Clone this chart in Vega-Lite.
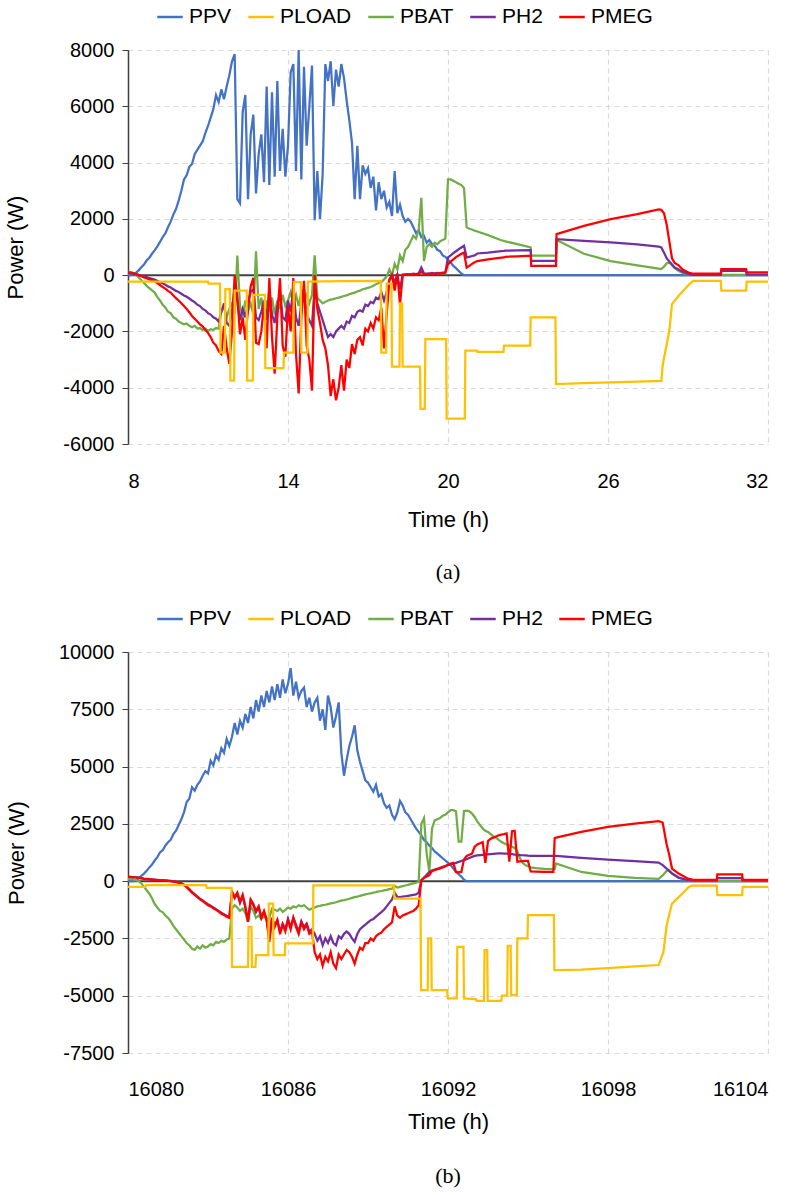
{
"$schema":"https://vega.github.io/schema/vega-lite/v6.json",
"padding":{"left":4,"top":3,"right":20,"bottom":5},
"background":"white",
"config":{
 "font":"Liberation Sans, sans-serif",
 "view":{"stroke":null},
 "axis":{"labelFontSize":20,"titleFontSize":22,"titleFontWeight":"normal","labelColor":"#000000","titleColor":"#000000","gridColor":"#d9d9d9","gridDash":[5,4],"gridWidth":1.2,"labelFont":"Liberation Sans, sans-serif","titleFont":"Liberation Sans, sans-serif"},
 "legend":{"labelFontSize":21,"labelFont":"Liberation Sans, sans-serif","labelColor":"#000000","symbolType":"stroke","symbolSize":650,"symbolStrokeWidth":2.5,"columnPadding":11,"labelOffset":5,"columns":5,"direction":"horizontal","orient":"none","title":null},
 "title":{"font":"Liberation Serif","fontSize":22,"fontWeight":"normal","color":"#000000"},
 "concat":{"spacing":22}
},
"datasets":{
"a":[
{"t":8.0,"PPV":0,"PBAT":120,"PH2":80,"PMEG":100},
{"t":8.1,"PPV":0,"PBAT":110,"PH2":70,"PMEG":90},
{"t":8.2,"PPV":20,"PBAT":70,"PH2":55,"PMEG":70},
{"t":8.3,"PPV":80,"PBAT":10,"PH2":30,"PMEG":40},
{"t":8.4,"PPV":170,"PBAT":-80,"PH2":10,"PMEG":0},
{"t":8.5,"PPV":280,"PBAT":-180,"PH2":-20,"PMEG":-40},
{"t":8.6,"PPV":380,"PBAT":-280,"PH2":-40,"PMEG":-80},
{"t":8.7,"PPV":520,"PBAT":-380,"PH2":-70,"PMEG":-110},
{"t":8.8,"PPV":620,"PBAT":-460,"PH2":-100,"PMEG":-150},
{"t":8.9,"PPV":760,"PBAT":-540,"PH2":-130,"PMEG":-180},
{"t":9.0,"PPV":880,"PBAT":-620,"PH2":-160,"PMEG":-220},
{"t":9.1,"PPV":1020,"PBAT":-780,"PH2":-200,"PMEG":-280},
{"t":9.2,"PPV":1180,"PBAT":-900,"PH2":-250,"PMEG":-350},
{"t":9.3,"PPV":1350,"PBAT":-1050,"PH2":-290,"PMEG":-420},
{"t":9.4,"PPV":1480,"PBAT":-1150,"PH2":-340,"PMEG":-480},
{"t":9.5,"PPV":1700,"PBAT":-1300,"PH2":-400,"PMEG":-560},
{"t":9.6,"PPV":1900,"PBAT":-1350,"PH2":-440,"PMEG":-620},
{"t":9.7,"PPV":2150,"PBAT":-1500,"PH2":-500,"PMEG":-720},
{"t":9.8,"PPV":2350,"PBAT":-1550,"PH2":-560,"PMEG":-820},
{"t":9.9,"PPV":2650,"PBAT":-1650,"PH2":-600,"PMEG":-900},
{"t":10.0,"PPV":3000,"PBAT":-1700,"PH2":-660,"PMEG":-1000},
{"t":10.1,"PPV":3400,"PBAT":-1750,"PH2":-720,"PMEG":-1100},
{"t":10.2,"PPV":3550,"PBAT":-1720,"PH2":-770,"PMEG":-1200},
{"t":10.3,"PPV":3850,"PBAT":-1800,"PH2":-830,"PMEG":-1320},
{"t":10.4,"PPV":3950,"PBAT":-1850,"PH2":-900,"PMEG":-1450},
{"t":10.5,"PPV":4300,"PBAT":-1800,"PH2":-960,"PMEG":-1550},
{"t":10.6,"PPV":4450,"PBAT":-1900,"PH2":-1050,"PMEG":-1650},
{"t":10.7,"PPV":4600,"PBAT":-1880,"PH2":-1100,"PMEG":-1750},
{"t":10.8,"PPV":4750,"PBAT":-1950,"PH2":-1200,"PMEG":-1820},
{"t":10.9,"PPV":5050,"PBAT":-1900,"PH2":-1250,"PMEG":-1950},
{"t":11.0,"PPV":5300,"PBAT":-1980,"PH2":-1350,"PMEG":-2050},
{"t":11.1,"PPV":5600,"PBAT":-1920,"PH2":-1400,"PMEG":-2200},
{"t":11.2,"PPV":5900,"PBAT":-1950,"PH2":-1500,"PMEG":-2400},
{"t":11.3,"PPV":6400,"PBAT":-1880,"PH2":-1550,"PMEG":-2500},
{"t":11.4,"PPV":6150,"PBAT":-1900,"PH2":-1650,"PMEG":-2700},
{"t":11.5,"PPV":6600,"PBAT":-1300,"PH2":-1300,"PMEG":-2800},
{"t":11.6,"PPV":6250,"PBAT":-1100,"PH2":-1000,"PMEG":-1800},
{"t":11.7,"PPV":6700,"PBAT":-1500,"PH2":-1700,"PMEG":-2600},
{"t":11.8,"PPV":7100,"PBAT":-1200,"PH2":-1800,"PMEG":-3150},
{"t":11.9,"PPV":7600,"PBAT":-1000,"PH2":-1300,"PMEG":-2000},
{"t":12.0,"PPV":7850,"PBAT":-1400,"PH2":-400,"PMEG":0},
{"t":12.1,"PPV":2700,"PBAT":700,"PH2":-900,"PMEG":-800},
{"t":12.2,"PPV":2550,"PBAT":-1100,"PH2":-1600,"PMEG":-2100},
{"t":12.3,"PPV":5800,"PBAT":-1500,"PH2":-1200,"PMEG":-1500},
{"t":12.4,"PPV":6400,"PBAT":-900,"PH2":-1500,"PMEG":-2300},
{"t":12.5,"PPV":2700,"PBAT":-1300,"PH2":-1000,"PMEG":-1200},
{"t":12.6,"PPV":5000,"PBAT":-1000,"PH2":-600,"PMEG":-400},
{"t":12.7,"PPV":5700,"PBAT":-1400,"PH2":-500,"PMEG":-100},
{"t":12.8,"PPV":2900,"PBAT":850,"PH2":-1500,"PMEG":-2400},
{"t":12.9,"PPV":4300,"PBAT":-1200,"PH2":-1600,"PMEG":-2450},
{"t":13.0,"PPV":5000,"PBAT":-800,"PH2":-1300,"PMEG":-2000},
{"t":13.1,"PPV":3300,"PBAT":-1500,"PH2":-900,"PMEG":-1000},
{"t":13.2,"PPV":6700,"PBAT":-900,"PH2":-1600,"PMEG":-2600},
{"t":13.3,"PPV":3200,"PBAT":-1300,"PH2":-500,"PMEG":-100},
{"t":13.4,"PPV":6500,"PBAT":-800,"PH2":-1400,"PMEG":-2200},
{"t":13.5,"PPV":3500,"PBAT":-1400,"PH2":-1700,"PMEG":-3500},
{"t":13.6,"PPV":6900,"PBAT":-900,"PH2":-1100,"PMEG":-1500},
{"t":13.7,"PPV":3700,"PBAT":-1200,"PH2":-600,"PMEG":-100},
{"t":13.8,"PPV":5200,"PBAT":-700,"PH2":-1500,"PMEG":-2500},
{"t":13.9,"PPV":3500,"PBAT":-1100,"PH2":-1600,"PMEG":-2900},
{"t":14.0,"PPV":4600,"PBAT":-900,"PH2":-900,"PMEG":-1100},
{"t":14.1,"PPV":7200,"PBAT":-600,"PH2":-1300,"PMEG":-2000},
{"t":14.2,"PPV":7500,"PBAT":-1000,"PH2":-500,"PMEG":-100},
{"t":14.3,"PPV":3700,"PBAT":-700,"PH2":-1500,"PMEG":-2800},
{"t":14.4,"PPV":8000,"PBAT":-1100,"PH2":-1800,"PMEG":-4200},
{"t":14.5,"PPV":3400,"PBAT":-600,"PH2":-1000,"PMEG":-1500},
{"t":14.6,"PPV":7400,"PBAT":-900,"PH2":-500,"PMEG":-200},
{"t":14.7,"PPV":4600,"PBAT":-700,"PH2":-1400,"PMEG":-2500},
{"t":14.8,"PPV":6000,"PBAT":-1000,"PH2":-1600,"PMEG":-3000},
{"t":14.9,"PPV":7450,"PBAT":-700,"PH2":-1800,"PMEG":-4100},
{"t":15.0,"PPV":1950,"PBAT":700,"PH2":-400,"PMEG":0},
{"t":15.1,"PPV":3700,"PBAT":-800,"PH2":-1000,"PMEG":-1200},
{"t":15.2,"PPV":2000,"PBAT":-900,"PH2":-1300,"PMEG":-1700},
{"t":15.3,"PPV":3600,"PBAT":-1000,"PH2":-1600,"PMEG":-2300},
{"t":15.4,"PPV":7500,"PBAT":-950,"PH2":-1900,"PMEG":-2600},
{"t":15.5,"PPV":6900,"PBAT":-900,"PH2":-2200,"PMEG":-3200},
{"t":15.6,"PPV":7600,"PBAT":-870,"PH2":-2100,"PMEG":-4300},
{"t":15.7,"PPV":6000,"PBAT":-850,"PH2":-2200,"PMEG":-3700},
{"t":15.8,"PPV":7300,"PBAT":-820,"PH2":-2000,"PMEG":-4450},
{"t":15.9,"PPV":6700,"PBAT":-800,"PH2":-1900,"PMEG":-4000},
{"t":16.0,"PPV":7500,"PBAT":-770,"PH2":-1800,"PMEG":-3200},
{"t":16.1,"PPV":7000,"PBAT":-740,"PH2":-1900,"PMEG":-4100},
{"t":16.2,"PPV":6200,"PBAT":-720,"PH2":-1650,"PMEG":-3000},
{"t":16.3,"PPV":5500,"PBAT":-680,"PH2":-1700,"PMEG":-3300},
{"t":16.4,"PPV":4700,"PBAT":-650,"PH2":-1450,"PMEG":-2450},
{"t":16.5,"PPV":2700,"PBAT":-620,"PH2":-1500,"PMEG":-2800},
{"t":16.6,"PPV":4600,"PBAT":-580,"PH2":-1300,"PMEG":-2300},
{"t":16.7,"PPV":2700,"PBAT":-550,"PH2":-1250,"PMEG":-2200},
{"t":16.8,"PPV":3900,"PBAT":-500,"PH2":-1300,"PMEG":-2500},
{"t":16.9,"PPV":3600,"PBAT":-480,"PH2":-1050,"PMEG":-1900},
{"t":17.0,"PPV":3800,"PBAT":-450,"PH2":-1100,"PMEG":-2000},
{"t":17.1,"PPV":3100,"PBAT":-420,"PH2":-950,"PMEG":-1700},
{"t":17.2,"PPV":3500,"PBAT":-380,"PH2":-1000,"PMEG":-1900},
{"t":17.3,"PPV":2300,"PBAT":-320,"PH2":-800,"PMEG":-1500},
{"t":17.4,"PPV":3300,"PBAT":-280,"PH2":-850,"PMEG":-1600},
{"t":17.5,"PPV":2700,"PBAT":-250,"PH2":-600,"PMEG":-1150},
{"t":17.6,"PPV":3000,"PBAT":-150,"PH2":-900,"PMEG":-2600},
{"t":17.7,"PPV":2400,"PBAT":-50,"PH2":-600,"PMEG":-1400},
{"t":17.8,"PPV":2600,"PBAT":200,"PH2":-150,"PMEG":-200},
{"t":17.9,"PPV":2100,"PBAT":0,"PH2":0,"PMEG":0},
{"t":18.0,"PPV":3700,"PBAT":400,"PH2":-250,"PMEG":-550},
{"t":18.1,"PPV":2200,"PBAT":200,"PH2":20,"PMEG":50},
{"t":18.2,"PPV":2500,"PBAT":700,"PH2":-500,"PMEG":-1050},
{"t":18.3,"PPV":2100,"PBAT":500,"PH2":20,"PMEG":0},
{"t":18.4,"PPV":1900,"PBAT":900,"PH2":30,"PMEG":20},
{"t":18.5,"PPV":2000,"PBAT":1000,"PH2":40,"PMEG":30},
{"t":18.6,"PPV":1900,"PBAT":1200,"PH2":30,"PMEG":20},
{"t":18.7,"PPV":1700,"PBAT":1400,"PH2":50,"PMEG":30},
{"t":18.8,"PPV":1500,"PBAT":1300,"PH2":40,"PMEG":40},
{"t":18.9,"PPV":1600,"PBAT":1600,"PH2":60,"PMEG":30},
{"t":19.0,"PPV":1350,"PBAT":2750,"PH2":270,"PMEG":120},
{"t":19.1,"PPV":1400,"PBAT":500,"PH2":60,"PMEG":40},
{"t":19.2,"PPV":1150,"PBAT":1000,"PH2":50,"PMEG":30},
{"t":19.3,"PPV":1250,"PBAT":1100,"PH2":60,"PMEG":40},
{"t":19.4,"PPV":1100,"PBAT":1000,"PH2":70,"PMEG":50},
{"t":19.5,"PPV":1050,"PBAT":1150,"PH2":60,"PMEG":40},
{"t":19.6,"PPV":900,"PBAT":1100,"PH2":80,"PMEG":50},
{"t":19.7,"PPV":850,"PBAT":1200,"PH2":70,"PMEG":60},
{"t":19.8,"PPV":700,"PBAT":1250,"PH2":90,"PMEG":60},
{"t":19.9,"PPV":650,"PBAT":1300,"PH2":100,"PMEG":80},
{"t":20.0,"PPV":550,"PBAT":3400,"PH2":630,"PMEG":390},
{"t":20.1,"PPV":450,"PBAT":3400,"PH2":700,"PMEG":480},
{"t":20.2,"PPV":330,"PBAT":3350,"PH2":780,"PMEG":560},
{"t":20.3,"PPV":250,"PBAT":3300,"PH2":850,"PMEG":640},
{"t":20.4,"PPV":150,"PBAT":3250,"PH2":920,"PMEG":700},
{"t":20.5,"PPV":60,"PBAT":3200,"PH2":980,"PMEG":760},
{"t":20.6,"PPV":0,"PBAT":3100,"PH2":1040,"PMEG":800},
{"t":20.7,"PPV":0,"PBAT":1700,"PH2":630,"PMEG":270},
{"t":20.8,"PPV":0,"PBAT":1650,"PH2":650,"PMEG":330},
{"t":20.9,"PPV":0,"PBAT":1620,"PH2":680,"PMEG":400},
{"t":21.0,"PPV":0,"PBAT":1580,"PH2":700,"PMEG":460},
{"t":21.1,"PPV":0,"PBAT":1550,"PH2":770,"PMEG":500},
{"t":21.5,"PPV":0,"PBAT":1420,"PH2":800,"PMEG":560},
{"t":22.0,"PPV":0,"PBAT":1240,"PH2":850,"PMEG":620},
{"t":22.1,"PPV":0,"PBAT":1220,"PH2":860,"PMEG":630},
{"t":22.15,"PPV":0,"PBAT":1200,"PH2":870,"PMEG":650},
{"t":22.6,"PPV":0,"PBAT":1100,"PH2":880,"PMEG":670},
{"t":23.1,"PPV":0,"PBAT":985,"PH2":885,"PMEG":690},
{"t":23.12,"PPV":0,"PBAT":690,"PH2":510,"PMEG":330},
{"t":24.05,"PPV":0,"PBAT":690,"PH2":510,"PMEG":330},
{"t":24.07,"PPV":0,"PBAT":1250,"PH2":1280,"PMEG":1460},
{"t":25.1,"PPV":0,"PBAT":760,"PH2":1220,"PMEG":1750},
{"t":26.1,"PPV":0,"PBAT":500,"PH2":1160,"PMEG":1990},
{"t":27.1,"PPV":0,"PBAT":350,"PH2":1090,"PMEG":2170},
{"t":27.9,"PPV":0,"PBAT":230,"PH2":1010,"PMEG":2340},
{"t":28.0,"PPV":0,"PBAT":213,"PH2":985,"PMEG":2320},
{"t":28.1,"PPV":0,"PBAT":300,"PH2":800,"PMEG":2200},
{"t":28.2,"PPV":0,"PBAT":420,"PH2":600,"PMEG":1800},
{"t":28.3,"PPV":0,"PBAT":450,"PH2":480,"PMEG":1200},
{"t":28.4,"PPV":0,"PBAT":350,"PH2":380,"PMEG":600},
{"t":28.5,"PPV":0,"PBAT":250,"PH2":270,"PMEG":430},
{"t":28.65,"PPV":0,"PBAT":150,"PH2":200,"PMEG":350},
{"t":28.8,"PPV":0,"PBAT":80,"PH2":120,"PMEG":200},
{"t":29.05,"PPV":0,"PBAT":20,"PH2":30,"PMEG":80},
{"t":29.2,"PPV":0,"PBAT":10,"PH2":10,"PMEG":50},
{"t":30.23,"PPV":0,"PBAT":10,"PH2":10,"PMEG":50},
{"t":30.25,"PPV":0,"PBAT":10,"PH2":155,"PMEG":215},
{"t":31.18,"PPV":0,"PBAT":10,"PH2":155,"PMEG":215},
{"t":31.2,"PPV":0,"PBAT":10,"PH2":20,"PMEG":100},
{"t":32.0,"PPV":0,"PBAT":10,"PH2":20,"PMEG":100},
{"t":8.0,"PLOAD":-230},{"t":11.0,"PLOAD":-230},{"t":11.02,"PLOAD":-300},{"t":11.45,"PLOAD":-300},{"t":11.47,"PLOAD":-2750},{"t":11.63,"PLOAD":-2750},{"t":11.65,"PLOAD":-500},{"t":11.82,"PLOAD":-500},{"t":11.84,"PLOAD":-3750},{"t":11.98,"PLOAD":-3750},{"t":12.0,"PLOAD":-550},{"t":12.45,"PLOAD":-550},{"t":12.47,"PLOAD":-3750},{"t":12.68,"PLOAD":-3750},{"t":12.7,"PLOAD":-700},{"t":13.13,"PLOAD":-700},{"t":13.15,"PLOAD":-3300},{"t":13.83,"PLOAD":-3300},{"t":13.85,"PLOAD":-2750},{"t":14.2,"PLOAD":-2750},{"t":14.22,"PLOAD":-250},{"t":14.48,"PLOAD":-250},{"t":14.5,"PLOAD":-2750},{"t":14.73,"PLOAD":-2750},{"t":14.75,"PLOAD":-230},{"t":16.0,"PLOAD":-210},{"t":17.48,"PLOAD":-200},{"t":17.5,"PLOAD":-2750},{"t":17.68,"PLOAD":-2750},{"t":17.7,"PLOAD":-300},{"t":17.88,"PLOAD":-300},{"t":17.9,"PLOAD":-3250},{"t":18.18,"PLOAD":-3250},{"t":18.2,"PLOAD":-1000},{"t":18.28,"PLOAD":-1000},{"t":18.3,"PLOAD":-3250},{"t":18.95,"PLOAD":-3250},{"t":18.97,"PLOAD":-4750},{"t":19.13,"PLOAD":-4750},{"t":19.15,"PLOAD":-2270},{"t":19.93,"PLOAD":-2270},{"t":19.95,"PLOAD":-5100},{"t":20.63,"PLOAD":-5100},{"t":20.65,"PLOAD":-2680},{"t":21.08,"PLOAD":-2680},{"t":21.1,"PLOAD":-2730},{"t":22.08,"PLOAD":-2730},{"t":22.1,"PLOAD":-2500},{"t":23.08,"PLOAD":-2500},{"t":23.1,"PLOAD":-1500},{"t":24.03,"PLOAD":-1500},{"t":24.05,"PLOAD":-3870},{"t":25.1,"PLOAD":-3840},{"t":26.1,"PLOAD":-3810},{"t":27.1,"PLOAD":-3780},{"t":28.0,"PLOAD":-3760},{"t":28.05,"PLOAD":-3200},{"t":28.3,"PLOAD":-1970},{"t":28.4,"PLOAD":-1030},{"t":28.65,"PLOAD":-730},{"t":29.05,"PLOAD":-320},{"t":29.2,"PLOAD":-200},{"t":30.23,"PLOAD":-200},{"t":30.25,"PLOAD":-550},{"t":31.18,"PLOAD":-550},{"t":31.2,"PLOAD":-230},{"t":32.0,"PLOAD":-230}
],
"b":[
{"t":16080.0,"PPV":0,"PBAT":100,"PH2":200,"PMEG":190},
{"t":16080.1,"PPV":0,"PBAT":90,"PH2":190,"PMEG":180},
{"t":16080.2,"PPV":0,"PBAT":80,"PH2":180,"PMEG":170},
{"t":16080.3,"PPV":20,"PBAT":50,"PH2":170,"PMEG":160},
{"t":16080.4,"PPV":120,"PBAT":0,"PH2":150,"PMEG":140},
{"t":16080.5,"PPV":230,"PBAT":-100,"PH2":130,"PMEG":120},
{"t":16080.6,"PPV":330,"PBAT":-250,"PH2":110,"PMEG":100},
{"t":16080.7,"PPV":450,"PBAT":-400,"PH2":100,"PMEG":90},
{"t":16080.8,"PPV":600,"PBAT":-550,"PH2":90,"PMEG":80},
{"t":16080.9,"PPV":720,"PBAT":-750,"PH2":80,"PMEG":70},
{"t":16081.0,"PPV":900,"PBAT":-1000,"PH2":70,"PMEG":60},
{"t":16081.1,"PPV":1050,"PBAT":-1150,"PH2":60,"PMEG":50},
{"t":16081.2,"PPV":1250,"PBAT":-1300,"PH2":50,"PMEG":40},
{"t":16081.3,"PPV":1350,"PBAT":-1350,"PH2":40,"PMEG":30},
{"t":16081.4,"PPV":1550,"PBAT":-1500,"PH2":30,"PMEG":20},
{"t":16081.5,"PPV":1700,"PBAT":-1600,"PH2":20,"PMEG":10},
{"t":16081.6,"PPV":1800,"PBAT":-1750,"PH2":10,"PMEG":0},
{"t":16081.7,"PPV":2050,"PBAT":-1950,"PH2":-10,"PMEG":-20},
{"t":16081.8,"PPV":2200,"PBAT":-2100,"PH2":-30,"PMEG":-40},
{"t":16081.9,"PPV":2450,"PBAT":-2250,"PH2":-60,"PMEG":-70},
{"t":16082.0,"PPV":2700,"PBAT":-2400,"PH2":-90,"PMEG":-100},
{"t":16082.1,"PPV":3000,"PBAT":-2550,"PH2":-150,"PMEG":-170},
{"t":16082.2,"PPV":3450,"PBAT":-2700,"PH2":-240,"PMEG":-260},
{"t":16082.3,"PPV":3600,"PBAT":-2800,"PH2":-350,"PMEG":-380},
{"t":16082.4,"PPV":4100,"PBAT":-2950,"PH2":-470,"PMEG":-500},
{"t":16082.5,"PPV":3950,"PBAT":-3000,"PH2":-570,"PMEG":-600},
{"t":16082.6,"PPV":4200,"PBAT":-2850,"PH2":-670,"PMEG":-700},
{"t":16082.7,"PPV":4350,"PBAT":-2950,"PH2":-760,"PMEG":-790},
{"t":16082.8,"PPV":4600,"PBAT":-2800,"PH2":-840,"PMEG":-870},
{"t":16082.9,"PPV":4800,"PBAT":-2900,"PH2":-930,"PMEG":-960},
{"t":16083.0,"PPV":4700,"PBAT":-2850,"PH2":-1010,"PMEG":-1050},
{"t":16083.1,"PPV":5250,"PBAT":-2750,"PH2":-1070,"PMEG":-1100},
{"t":16083.2,"PPV":5050,"PBAT":-2800,"PH2":-1150,"PMEG":-1180},
{"t":16083.3,"PPV":5500,"PBAT":-2650,"PH2":-1220,"PMEG":-1250},
{"t":16083.4,"PPV":5300,"PBAT":-2700,"PH2":-1300,"PMEG":-1330},
{"t":16083.5,"PPV":5800,"PBAT":-2600,"PH2":-1380,"PMEG":-1420},
{"t":16083.6,"PPV":5600,"PBAT":-2650,"PH2":-1440,"PMEG":-1480},
{"t":16083.7,"PPV":6200,"PBAT":-2550,"PH2":-1510,"PMEG":-1550},
{"t":16083.8,"PPV":5900,"PBAT":-2500,"PH2":-1560,"PMEG":-1600},
{"t":16083.9,"PPV":6300,"PBAT":-1200,"PH2":-500,"PMEG":-450},
{"t":16084.0,"PPV":6900,"PBAT":-1050,"PH2":-750,"PMEG":-700},
{"t":16084.1,"PPV":6400,"PBAT":-1150,"PH2":-550,"PMEG":-500},
{"t":16084.2,"PPV":7000,"PBAT":-1300,"PH2":-950,"PMEG":-900},
{"t":16084.3,"PPV":6700,"PBAT":-1200,"PH2":-650,"PMEG":-600},
{"t":16084.4,"PPV":7300,"PBAT":-1400,"PH2":-1150,"PMEG":-1100},
{"t":16084.5,"PPV":6900,"PBAT":-1780,"PH2":-1700,"PMEG":-1780},
{"t":16084.6,"PPV":7600,"PBAT":-1100,"PH2":-850,"PMEG":-800},
{"t":16084.7,"PPV":7100,"PBAT":-1300,"PH2":-1050,"PMEG":-1000},
{"t":16084.8,"PPV":7900,"PBAT":-1600,"PH2":-1350,"PMEG":-1300},
{"t":16084.9,"PPV":7400,"PBAT":-1500,"PH2":-1150,"PMEG":-1100},
{"t":16085.0,"PPV":8100,"PBAT":-1650,"PH2":-1600,"PMEG":-1600},
{"t":16085.1,"PPV":7600,"PBAT":-1550,"PH2":-1350,"PMEG":-1300},
{"t":16085.2,"PPV":8300,"PBAT":-1650,"PH2":-1700,"PMEG":-1700},
{"t":16085.3,"PPV":7800,"PBAT":-1600,"PH2":-2500,"PMEG":-2650},
{"t":16085.4,"PPV":8500,"PBAT":-1200,"PH2":-1600,"PMEG":-1600},
{"t":16085.5,"PPV":7900,"PBAT":-1250,"PH2":-1950,"PMEG":-2000},
{"t":16085.6,"PPV":8600,"PBAT":-1300,"PH2":-1700,"PMEG":-1700},
{"t":16085.7,"PPV":8000,"PBAT":-1200,"PH2":-2200,"PMEG":-2300},
{"t":16085.8,"PPV":8800,"PBAT":-1340,"PH2":-1850,"PMEG":-1900},
{"t":16085.9,"PPV":8200,"PBAT":-1250,"PH2":-2100,"PMEG":-2200},
{"t":16086.0,"PPV":8600,"PBAT":-1150,"PH2":-1650,"PMEG":-1700},
{"t":16086.1,"PPV":9300,"PBAT":-1200,"PH2":-2000,"PMEG":-2100},
{"t":16086.2,"PPV":8100,"PBAT":-1100,"PH2":-1600,"PMEG":-1600},
{"t":16086.3,"PPV":8700,"PBAT":-1150,"PH2":-1900,"PMEG":-2000},
{"t":16086.4,"PPV":8000,"PBAT":-1050,"PH2":-2200,"PMEG":-2300},
{"t":16086.5,"PPV":8300,"PBAT":-1100,"PH2":-1750,"PMEG":-1800},
{"t":16086.6,"PPV":8450,"PBAT":-1050,"PH2":-2000,"PMEG":-2100},
{"t":16086.7,"PPV":7600,"PBAT":-1150,"PH2":-1850,"PMEG":-1900},
{"t":16086.8,"PPV":8000,"PBAT":-1250,"PH2":-2200,"PMEG":-2300},
{"t":16086.9,"PPV":7400,"PBAT":-1200,"PH2":-2100,"PMEG":-2200},
{"t":16087.0,"PPV":7800,"PBAT":-1150,"PH2":-2300,"PMEG":-3100},
{"t":16087.1,"PPV":8000,"PBAT":-1100,"PH2":-2600,"PMEG":-3400},
{"t":16087.2,"PPV":7000,"PBAT":-1080,"PH2":-2400,"PMEG":-3200},
{"t":16087.3,"PPV":7500,"PBAT":-1050,"PH2":-2800,"PMEG":-3700},
{"t":16087.4,"PPV":6600,"PBAT":-1030,"PH2":-2500,"PMEG":-3300},
{"t":16087.5,"PPV":8100,"PBAT":-1000,"PH2":-2700,"PMEG":-3500},
{"t":16087.6,"PPV":7600,"PBAT":-970,"PH2":-2400,"PMEG":-3100},
{"t":16087.7,"PPV":6700,"PBAT":-950,"PH2":-2700,"PMEG":-3600},
{"t":16087.8,"PPV":7200,"PBAT":-920,"PH2":-2800,"PMEG":-3800},
{"t":16087.9,"PPV":7800,"PBAT":-880,"PH2":-2400,"PMEG":-3200},
{"t":16088.0,"PPV":5600,"PBAT":-850,"PH2":-2500,"PMEG":-3400},
{"t":16088.1,"PPV":4600,"PBAT":-830,"PH2":-2300,"PMEG":-3200},
{"t":16088.2,"PPV":5300,"PBAT":-800,"PH2":-2200,"PMEG":-3000},
{"t":16088.3,"PPV":5900,"PBAT":-770,"PH2":-2300,"PMEG":-3100},
{"t":16088.4,"PPV":6300,"PBAT":-730,"PH2":-2500,"PMEG":-3300},
{"t":16088.5,"PPV":6800,"PBAT":-700,"PH2":-2650,"PMEG":-3600},
{"t":16088.6,"PPV":5700,"PBAT":-680,"PH2":-2300,"PMEG":-3200},
{"t":16088.7,"PPV":5200,"PBAT":-640,"PH2":-2100,"PMEG":-2900},
{"t":16088.8,"PPV":4800,"PBAT":-610,"PH2":-2000,"PMEG":-3000},
{"t":16088.9,"PPV":4400,"PBAT":-580,"PH2":-1900,"PMEG":-2700},
{"t":16089.0,"PPV":4300,"PBAT":-550,"PH2":-1800,"PMEG":-2700},
{"t":16089.1,"PPV":4100,"PBAT":-530,"PH2":-1700,"PMEG":-2500},
{"t":16089.2,"PPV":3900,"PBAT":-500,"PH2":-1650,"PMEG":-2600},
{"t":16089.3,"PPV":4200,"PBAT":-480,"PH2":-1550,"PMEG":-2400},
{"t":16089.4,"PPV":3700,"PBAT":-450,"PH2":-1450,"PMEG":-2300},
{"t":16089.5,"PPV":3800,"PBAT":-430,"PH2":-1350,"PMEG":-2250},
{"t":16089.6,"PPV":3400,"PBAT":-400,"PH2":-1250,"PMEG":-2100},
{"t":16089.7,"PPV":3200,"PBAT":-380,"PH2":-1100,"PMEG":-2000},
{"t":16089.8,"PPV":3300,"PBAT":-350,"PH2":-950,"PMEG":-1900},
{"t":16089.9,"PPV":2900,"PBAT":-330,"PH2":-800,"PMEG":-1800},
{"t":16090.0,"PPV":2700,"PBAT":-200,"PH2":-500,"PMEG":-1100},
{"t":16090.1,"PPV":3000,"PBAT":-280,"PH2":-700,"PMEG":-1500},
{"t":16090.2,"PPV":3500,"PBAT":-250,"PH2":-700,"PMEG":-1600},
{"t":16090.3,"PPV":3300,"PBAT":-220,"PH2":-680,"PMEG":-1500},
{"t":16090.4,"PPV":3000,"PBAT":-190,"PH2":-660,"PMEG":-1450},
{"t":16090.5,"PPV":2900,"PBAT":-160,"PH2":-640,"PMEG":-1400},
{"t":16090.6,"PPV":2700,"PBAT":-130,"PH2":-620,"PMEG":-1350},
{"t":16090.7,"PPV":2500,"PBAT":-100,"PH2":-600,"PMEG":-1300},
{"t":16090.8,"PPV":2300,"PBAT":-70,"PH2":-580,"PMEG":-1200},
{"t":16090.9,"PPV":2150,"PBAT":-30,"PH2":-500,"PMEG":-1050},
{"t":16091.0,"PPV":2000,"PBAT":2500,"PH2":40,"PMEG":40},
{"t":16091.1,"PPV":1800,"PBAT":2750,"PH2":150,"PMEG":150},
{"t":16091.2,"PPV":1700,"PBAT":1200,"PH2":280,"PMEG":200},
{"t":16091.3,"PPV":1550,"PBAT":400,"PH2":400,"PMEG":260},
{"t":16091.4,"PPV":1450,"PBAT":2300,"PH2":460,"PMEG":450},
{"t":16091.5,"PPV":1300,"PBAT":2650,"PH2":500,"PMEG":480},
{"t":16091.6,"PPV":1200,"PBAT":2700,"PH2":540,"PMEG":520},
{"t":16091.7,"PPV":1100,"PBAT":2750,"PH2":580,"PMEG":550},
{"t":16091.8,"PPV":1000,"PBAT":2850,"PH2":620,"PMEG":600},
{"t":16091.9,"PPV":900,"PBAT":2900,"PH2":660,"PMEG":650},
{"t":16092.0,"PPV":800,"PBAT":3000,"PH2":700,"PMEG":720},
{"t":16092.1,"PPV":700,"PBAT":3100,"PH2":730,"PMEG":770},
{"t":16092.2,"PPV":550,"PBAT":3100,"PH2":770,"PMEG":800},
{"t":16092.3,"PPV":400,"PBAT":3050,"PH2":800,"PMEG":400},
{"t":16092.4,"PPV":300,"PBAT":1720,"PH2":840,"PMEG":380},
{"t":16092.5,"PPV":200,"PBAT":1720,"PH2":880,"PMEG":400},
{"t":16092.6,"PPV":60,"PBAT":3060,"PH2":915,"PMEG":950},
{"t":16092.7,"PPV":0,"PBAT":3080,"PH2":960,"PMEG":1100},
{"t":16092.8,"PPV":0,"PBAT":3050,"PH2":1010,"PMEG":1150},
{"t":16092.9,"PPV":0,"PBAT":2950,"PH2":1060,"PMEG":1200},
{"t":16093.0,"PPV":0,"PBAT":2800,"PH2":1100,"PMEG":1500},
{"t":16093.1,"PPV":0,"PBAT":2600,"PH2":1120,"PMEG":1600},
{"t":16093.2,"PPV":0,"PBAT":2450,"PH2":1140,"PMEG":1650},
{"t":16093.3,"PPV":0,"PBAT":2300,"PH2":1150,"PMEG":1700},
{"t":16093.4,"PPV":0,"PBAT":2200,"PH2":1160,"PMEG":800},
{"t":16093.5,"PPV":0,"PBAT":2150,"PH2":1170,"PMEG":1750},
{"t":16093.6,"PPV":0,"PBAT":2050,"PH2":1180,"PMEG":1850},
{"t":16093.7,"PPV":0,"PBAT":1950,"PH2":1190,"PMEG":1900},
{"t":16093.8,"PPV":0,"PBAT":1900,"PH2":1200,"PMEG":1950},
{"t":16093.9,"PPV":0,"PBAT":1800,"PH2":1210,"PMEG":2000},
{"t":16094.0,"PPV":0,"PBAT":1720,"PH2":1210,"PMEG":2030},
{"t":16094.1,"PPV":0,"PBAT":1650,"PH2":1200,"PMEG":2050},
{"t":16094.2,"PPV":0,"PBAT":1600,"PH2":1200,"PMEG":2080},
{"t":16094.3,"PPV":0,"PBAT":1550,"PH2":1190,"PMEG":850},
{"t":16094.4,"PPV":0,"PBAT":1500,"PH2":1180,"PMEG":2180},
{"t":16094.5,"PPV":0,"PBAT":1450,"PH2":1160,"PMEG":2200},
{"t":16094.6,"PPV":0,"PBAT":1300,"PH2":1150,"PMEG":850},
{"t":16094.7,"PPV":0,"PBAT":1000,"PH2":1140,"PMEG":860},
{"t":16094.8,"PPV":0,"PBAT":800,"PH2":1130,"PMEG":870},
{"t":16094.9,"PPV":0,"PBAT":700,"PH2":1120,"PMEG":880},
{"t":16095.0,"PPV":0,"PBAT":650,"PH2":1110,"PMEG":880},
{"t":16095.1,"PPV":0,"PBAT":600,"PH2":1105,"PMEG":420},
{"t":16095.3,"PPV":0,"PBAT":570,"PH2":1100,"PMEG":410},
{"t":16095.6,"PPV":0,"PBAT":540,"PH2":1100,"PMEG":400},
{"t":16095.95,"PPV":0,"PBAT":520,"PH2":1100,"PMEG":400},
{"t":16096.0,"PPV":0,"PBAT":520,"PH2":1100,"PMEG":1880},
{"t":16096.05,"PPV":0,"PBAT":770,"PH2":1100,"PMEG":1900},
{"t":16097.0,"PPV":0,"PBAT":400,"PH2":1020,"PMEG":2150},
{"t":16098.0,"PPV":0,"PBAT":230,"PH2":940,"PMEG":2370},
{"t":16099.0,"PPV":0,"PBAT":140,"PH2":870,"PMEG":2510},
{"t":16099.9,"PPV":0,"PBAT":100,"PH2":810,"PMEG":2620},
{"t":16100.05,"PPV":0,"PBAT":250,"PH2":700,"PMEG":2560},
{"t":16100.2,"PPV":0,"PBAT":450,"PH2":550,"PMEG":1600},
{"t":16100.3,"PPV":0,"PBAT":480,"PH2":430,"PMEG":1130},
{"t":16100.4,"PPV":0,"PBAT":350,"PH2":330,"PMEG":550},
{"t":16100.65,"PPV":0,"PBAT":150,"PH2":150,"PMEG":330},
{"t":16101.0,"PPV":0,"PBAT":30,"PH2":40,"PMEG":110},
{"t":16101.2,"PPV":0,"PBAT":10,"PH2":20,"PMEG":60},
{"t":16102.08,"PPV":0,"PBAT":10,"PH2":20,"PMEG":60},
{"t":16102.1,"PPV":0,"PBAT":10,"PH2":130,"PMEG":290},
{"t":16103.03,"PPV":0,"PBAT":10,"PH2":130,"PMEG":290},
{"t":16103.05,"PPV":0,"PBAT":10,"PH2":20,"PMEG":60},
{"t":16104.0,"PPV":0,"PBAT":10,"PH2":20,"PMEG":60},
{"t":16080.0,"PLOAD":-250},{"t":16080.65,"PLOAD":-250},{"t":16080.67,"PLOAD":-170},{"t":16082.93,"PLOAD":-170},{"t":16082.95,"PLOAD":-290},{"t":16083.88,"PLOAD":-290},{"t":16083.9,"PLOAD":-3740},{"t":16084.5,"PLOAD":-3740},{"t":16084.52,"PLOAD":-2000},{"t":16084.63,"PLOAD":-2000},{"t":16084.65,"PLOAD":-3740},{"t":16084.78,"PLOAD":-3740},{"t":16084.8,"PLOAD":-3230},{"t":16085.26,"PLOAD":-3230},{"t":16085.28,"PLOAD":-980},{"t":16085.44,"PLOAD":-980},{"t":16085.46,"PLOAD":-3230},{"t":16085.88,"PLOAD":-3230},{"t":16085.9,"PLOAD":-2720},{"t":16086.93,"PLOAD":-2720},{"t":16086.95,"PLOAD":-190},{"t":16089.97,"PLOAD":-190},{"t":16089.99,"PLOAD":-760},{"t":16090.97,"PLOAD":-760},{"t":16090.99,"PLOAD":-4760},{"t":16091.24,"PLOAD":-4760},{"t":16091.26,"PLOAD":-2500},{"t":16091.37,"PLOAD":-2500},{"t":16091.39,"PLOAD":-4760},{"t":16091.97,"PLOAD":-4760},{"t":16091.99,"PLOAD":-5120},{"t":16092.33,"PLOAD":-5120},{"t":16092.35,"PLOAD":-2870},{"t":16092.58,"PLOAD":-2870},{"t":16092.6,"PLOAD":-5120},{"t":16093.05,"PLOAD":-5150},{"t":16093.07,"PLOAD":-5220},{"t":16093.35,"PLOAD":-5220},{"t":16093.37,"PLOAD":-3010},{"t":16093.47,"PLOAD":-3010},{"t":16093.49,"PLOAD":-5220},{"t":16094.0,"PLOAD":-5220},{"t":16094.02,"PLOAD":-5000},{"t":16094.22,"PLOAD":-5000},{"t":16094.24,"PLOAD":-2820},{"t":16094.35,"PLOAD":-2820},{"t":16094.37,"PLOAD":-4970},{"t":16094.58,"PLOAD":-4970},{"t":16094.6,"PLOAD":-2500},{"t":16094.98,"PLOAD":-2500},{"t":16095.0,"PLOAD":-1480},{"t":16095.97,"PLOAD":-1480},{"t":16095.99,"PLOAD":-3880},{"t":16097.0,"PLOAD":-3860},{"t":16098.0,"PLOAD":-3800},{"t":16099.0,"PLOAD":-3720},{"t":16099.9,"PLOAD":-3660},{"t":16100.08,"PLOAD":-3080},{"t":16100.2,"PLOAD":-1920},{"t":16100.4,"PLOAD":-980},{"t":16100.65,"PLOAD":-700},{"t":16101.03,"PLOAD":-250},{"t":16101.16,"PLOAD":-200},{"t":16102.08,"PLOAD":-200},{"t":16102.1,"PLOAD":-610},{"t":16103.03,"PLOAD":-610},{"t":16103.05,"PLOAD":-250},{"t":16104.0,"PLOAD":-250}
]
},
"vconcat":[
{
 "width":640,"height":394,
 "title":{"text":"(a)","orient":"bottom","offset":32,"anchor":"middle"},
 "layer":[
  {"data":{"values":[{}]},"mark":{"type":"rule","color":"#404040","strokeWidth":2},"encoding":{"y":{"datum":0,"type":"quantitative"}}},
  {"data":{"name":"a"},
   "transform":[{"fold":["PPV","PLOAD","PBAT","PH2","PMEG"],"as":["s","p"]},{"filter":"isValid(datum.p)"}],
   "mark":{"type":"line","strokeWidth":2.25},
   "encoding":{
    "x":{"field":"t","type":"quantitative","scale":{"domain":[8,32],"nice":false,"zero":false},"axis":{"values":[8,14,20,26,32],"title":"Time (h)","domain":false,"ticks":false,"labelPadding":27,"titlePadding":18,"grid":true}},
    "y":{"field":"p","type":"quantitative","scale":{"domain":[-6000,8000],"nice":false},"axis":{"values":[-6000,-4000,-2000,0,2000,4000,6000,8000],"labelExpr":"'' + datum.value","title":"Power (W)","domainColor":"#404040","domainWidth":1.5,"tickColor":"#404040","tickSize":6,"labelPadding":8,"titlePadding":35,"grid":true}},
    "color":{"field":"s","type":"nominal","scale":{"domain":["PPV","PLOAD","PBAT","PH2","PMEG"],"range":["#4472C4","#FFC000","#70AD47","#7030A0","#FF0000"]},"legend":{"orient":"none","legendX":28,"legendY":-47,"direction":"horizontal","columns":5,"title":null}}
   }
  }
 ]
},
{
 "width":640,"height":401,
 "title":{"text":"(b)","orient":"bottom","offset":34,"anchor":"middle"},
 "layer":[
  {"data":{"values":[{}]},"mark":{"type":"rule","color":"#404040","strokeWidth":2},"encoding":{"y":{"datum":0,"type":"quantitative"}}},
  {"data":{"name":"b"},
   "transform":[{"fold":["PPV","PLOAD","PBAT","PH2","PMEG"],"as":["s","p"]},{"filter":"isValid(datum.p)"}],
   "mark":{"type":"line","strokeWidth":2.25},
   "encoding":{
    "x":{"field":"t","type":"quantitative","scale":{"domain":[16080,16104],"nice":false,"zero":false},"axis":{"values":[16080,16086,16092,16098,16104],"format":"d","title":"Time (h)","domain":false,"ticks":false,"labelPadding":26,"titlePadding":12,"grid":true}},
    "y":{"field":"p","type":"quantitative","scale":{"domain":[-7500,10000],"nice":false},"axis":{"values":[-7500,-5000,-2500,0,2500,5000,7500,10000],"labelExpr":"'' + datum.value","title":"Power (W)","domainColor":"#404040","domainWidth":1.5,"tickColor":"#404040","tickSize":6,"labelPadding":8,"titlePadding":30,"grid":true}},
    "color":{"field":"s","type":"nominal","scale":{"domain":["PPV","PLOAD","PBAT","PH2","PMEG"],"range":["#4472C4","#FFC000","#70AD47","#7030A0","#FF0000"]},"legend":{"orient":"none","legendX":28,"legendY":-47,"direction":"horizontal","columns":5,"title":null}}
   }
  }
 ]
}
],
"resolve":{"legend":{"color":"independent"},"scale":{"color":"independent","x":"independent","y":"independent"}}
}
